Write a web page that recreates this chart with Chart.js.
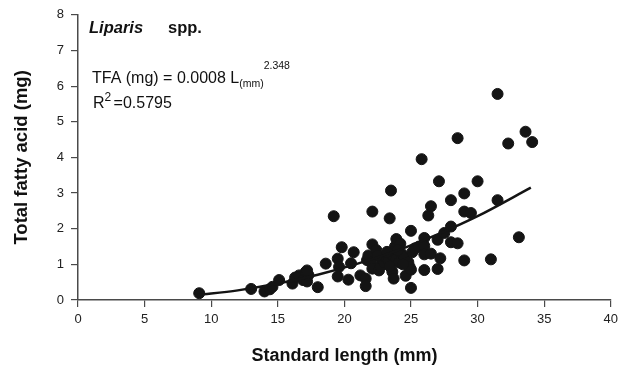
<!DOCTYPE html>
<html lang="en">
    <head>
        <meta charset="utf-8" />
        <script src="https://cdn.jsdelivr.net/npm/chart.js@4.4.1/dist/chart.umd.min.js"></script>
        <title>Liparis spp. total fatty acid</title>
        <style>
            html, body { margin: 0; padding: 0; background: #fff; }
            #wrap { width: 623px; height: 382px; }
        </style>
    </head>
    <body>
        <div id="wrap"><canvas id="grafico" width="623" height="382"></canvas></div>
        <script>
            // standard length (mm) and total fatty acid (mg)
            const largo = [
                9.1, 13.0, 14.0, 14.4, 14.6, 15.1, 16.1, 16.3, 16.6, 16.9,
                17.1, 17.2, 17.3, 17.2, 18.0, 18.6, 19.2, 19.5, 19.6, 19.5,
                19.8, 20.3, 20.5, 20.7, 21.2, 21.6, 21.6, 21.7, 21.8, 22.0,
                22.1, 22.1, 22.1, 22.4, 22.6, 22.7, 22.8, 23.0, 23.1, 23.3,
                23.4, 23.5, 23.6, 23.7, 23.8, 23.9, 24.2, 23.6, 23.9, 24.1,
                24.3, 24.5, 24.6, 24.8, 24.9, 25.0, 25.0, 25.0, 25.1, 25.3,
                25.6, 25.8, 26.0, 26.0, 26.0, 26.0, 26.3, 26.5, 26.5, 27.0,
                27.0, 27.1, 27.2, 27.5, 28.0, 28.0, 28.0, 28.5, 28.5, 29.0,
                29.0, 29.0, 29.5, 30.0, 31.0, 31.5, 31.5, 32.3, 33.1, 33.6,
                34.1, 22.5, 23.2, 24.0, 24.4, 23.4
            ];
            const acidos = [
                0.19, 0.31, 0.24, 0.30, 0.37, 0.56, 0.46, 0.63, 0.69, 0.56,
                0.79, 0.52, 0.70, 0.83, 0.36, 1.02, 2.35, 1.16, 0.93, 0.66,
                1.48, 0.57, 1.03, 1.34, 0.69, 0.60, 0.39, 1.12, 1.25, 1.06,
                1.56, 2.48, 0.88, 1.40, 0.83, 0.95, 1.15, 1.05, 1.20, 1.10,
                2.29, 3.07, 0.79, 0.60, 1.50, 1.71, 1.58, 1.25, 1.15, 1.05,
                1.30, 1.20, 0.68, 1.06, 0.93, 0.85, 0.34, 1.94, 1.34, 1.45,
                1.50, 3.95, 1.74, 1.52, 1.28, 0.84, 2.37, 2.63, 1.30, 0.87,
                1.69, 3.33, 1.17, 1.88, 2.06, 1.62, 2.80, 1.59, 4.54, 2.99,
                2.48, 1.11, 2.44, 3.33, 1.14, 2.80, 5.78, 4.39, 1.76, 4.72,
                4.43, 1.25, 1.35, 1.40, 1.00, 0.95
            ];

            // fitted curve as drawn in the figure
            const curvaX = [9, 12, 15, 18, 21, 24, 27, 30, 34];
            const curvaY = [0.14, 0.27, 0.46, 0.71, 1.02, 1.39, 1.84, 2.35, 3.15];

            const ticksX = [0, 5, 10, 15, 20, 25, 30, 35, 40];
            const ticksY = [0, 1, 2, 3, 4, 5, 6, 7, 8];

            const puntos = largo.map((x, i) => ({ x: x, y: acidos[i] }));
            const curva = curvaX.map((x, i) => ({ x: x, y: curvaY[i] }));

            const fuente = "'Liberation Sans', Arial, sans-serif";
            const gris = "#4a4a4a";

            const textos = {
                id: "textos",
                afterDraw(chart) {
                    const ctx = chart.ctx;
                    ctx.save();
                    ctx.fillStyle = "#111";
                    ctx.textBaseline = "alphabetic";
                    ctx.textAlign = "left";
                    ctx.font = "italic bold 16.5px " + fuente;
                    ctx.fillText("Liparis", 89, 33);
                    ctx.font = "bold 16.5px " + fuente;
                    ctx.fillText("spp.", 168, 33);

                    ctx.font = "16px " + fuente;
                    const t = "TFA (mg) = 0.0008 L";
                    ctx.fillText(t, 92, 83);
                    const w = ctx.measureText(t).width;
                    ctx.font = "10.5px " + fuente;
                    ctx.fillText("(mm)", 92 + w, 87);
                    const ws = ctx.measureText("(mm)").width;
                    ctx.fillText("2.348", 92 + w + ws, 69);

                    ctx.font = "16px " + fuente;
                    ctx.fillText("R", 93, 108);
                    const wr = ctx.measureText("R").width;
                    ctx.font = "12px " + fuente;
                    ctx.fillText("2", 93 + wr, 101);
                    ctx.font = "16px " + fuente;
                    ctx.fillText("=0.5795", 93 + wr + 9, 108);
                    ctx.restore();
                }
            };

            new Chart(document.getElementById("grafico").getContext("2d"), {
                data: {
                    datasets: [
                        {
                            type: "scatter",
                            data: puntos,
                            backgroundColor: "#141414",
                            borderColor: "#141414",
                            pointRadius: 5.5,
                            pointHoverRadius: 5.5,
                            order: 2
                        },
                        {
                            type: "line",
                            data: curva,
                            borderColor: "#141414",
                            borderWidth: 2.5,
                            pointRadius: 0,
                            fill: false,
                            cubicInterpolationMode: "monotone",
                            order: 1
                        }
                    ]
                },
                options: {
                    responsive: false,
                    animation: false,
                    layout: { padding: { top: 12, right: 10, left: 0, bottom: 0 } },
                    plugins: {
                        legend: { display: false },
                        tooltip: { enabled: false }
                    },
                    scales: {
                        x: {
                            type: "linear",
                            min: 0,
                            max: 40,
                            afterFit: (s) => { s.height = 82; },
                            afterBuildTicks: (s) => { s.ticks = ticksX.map((v) => ({ value: v })); },
                            ticks: { color: "#222", padding: 5, font: { family: fuente, size: 13 } },
                            grid: { drawOnChartArea: false, tickLength: 7, color: gris, lineWidth: 1.2 },
                            border: { color: gris, width: 1.5 },
                            title: {
                                display: true,
                                text: "Standard length (mm)",
                                color: "#111",
                                font: { family: fuente, size: 18, weight: "bold" },
                                padding: { top: 0, bottom: 15 }
                            }
                        },
                        y: {
                            type: "linear",
                            min: 0,
                            max: 8,
                            afterFit: (s) => { s.width = 78; },
                            afterBuildTicks: (s) => { s.ticks = ticksY.map((v) => ({ value: v })); },
                            ticks: { color: "#222", padding: 7, font: { family: fuente, size: 13 } },
                            grid: { drawOnChartArea: false, tickLength: 7, color: gris, lineWidth: 1.2 },
                            border: { color: gris, width: 1.5 },
                            title: {
                                display: true,
                                text: "Total fatty acid (mg)",
                                color: "#111",
                                font: { family: fuente, size: 18.5, weight: "bold" },
                                padding: { top: 11, bottom: 0 }
                            }
                        }
                    }
                },
                plugins: [textos]
            });
        </script>
    </body>
</html>
